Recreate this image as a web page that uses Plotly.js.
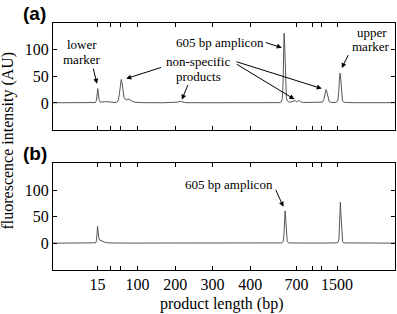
<!DOCTYPE html>
<html><head><meta charset="utf-8">
<script src="https://cdn.plot.ly/plotly-3.0.1.min.js"></script>
<style>html,body{margin:0;padding:0;background:#fff}</style>
</head><body><div id="chart" style="width:397px;height:314px"></div>
<script>
// ladder sizes (bp) and their migration position on the time axis
const ladderSizes = [15, 25, 50, 100, 200, 300, 400, 700, 850, 1000, 1500];
const ladderLabels = ['15', '', '', '100', '200', '300', '400', '700', '', '', '1500'];
const ladderTime = [44.6, 57.3, 68, 84.6, 122.3, 159.6, 197.3, 243.8, 259.8, 268.3, 284.3];

// panel (a): electropherogram trace
const timeA = [0,20,40,42.5,43.5,44.2,44.8,45.4,46.2,47.2,49,51,53,55,58,62,64.5,65.5,66.5,67.5,68.3,69.1,70,71,72,73.5,75,76.5,78,80,83,90,110,122,125,127.3,129.5,133,150,180,210,226,228.5,229.5,230.2,230.8,231.3,231.8,232.3,232.9,233.6,234.5,236,238,240,241.5,242.3,243.5,244.5,245.5,246.3,247.3,248.5,251,258,266,269.5,271,272.2,273.3,274.3,275.4,276.5,279,283,284.8,285.8,286.6,287.3,288,288.8,289.7,291,294,305,320,342.3];
const fluorA = [0.3,0.3,0.4,0.8,5,16,27,17,5,1.8,1.5,2,2.6,2.2,1,0.8,2,6,18,36,44,38,22,11,7.5,6,6.8,7,5,2.5,1.2,0.6,0.4,0.6,1.5,3,1.6,0.6,0.4,0.4,0.5,0.6,2,8,35,95,131,112,70,30,10,4,2,1.5,2.5,3.5,4.5,2.5,2,4,5,3,1.5,0.8,0.6,0.7,1.5,6,18,25,19,7,2.5,1,0.9,3,15,42,56,44,18,5,1.5,0.8,0.5,0.5,0.5];

// panel (b): electropherogram trace
const timeB = [0,25,40,42.8,43.6,44.1,44.6,45.2,46,47,48.5,50,52,55,60,80,120,180,226,229,230.3,231.1,231.8,232.3,232.9,233.6,234.4,235.5,240,270,283,285,286.2,287,287.6,288.2,289,289.9,291.2,300,342.3];
const fluorB = [0.3,0.3,0.4,1,6,17,32,21,9,6,4.5,3.2,2,1,0.6,0.5,0.4,0.4,0.4,0.8,3,14,42,61,46,17,4,1.2,0.6,0.5,0.5,1,8,40,77,55,16,3,0.8,0.5,0.4];

const yTicks = [0, 50, 100];

const L = 52.7, R = 395, T = 22.6, B = 270, W = 397, H = 314;
const px = x => (x - L) / (R - L);
const py = y => (B - y) / (B - T);

const serif = "'Liberation Serif', 'Times New Roman', serif";
const lineStyle = {color: '#555', width: 1};

const traces = [
  {x: timeA, y: fluorA, xaxis: 'x2', yaxis: 'y2', type: 'scatter', mode: 'lines', line: lineStyle, hoverinfo: 'skip'},
  {x: timeB, y: fluorB, xaxis: 'x', yaxis: 'y', type: 'scatter', mode: 'lines', line: lineStyle, hoverinfo: 'skip'}
];

const axCommon = {
  showline: true, linecolor: '#000', linewidth: 1, mirror: 'ticks',
  ticks: 'inside', ticklen: 4, tickcolor: '#000', tickwidth: 1,
  showgrid: false, zeroline: false, fixedrange: true,
  tickfont: {family: serif, size: 16, color: '#000'}
};

function txt(text, x, y, size, extra) {
  return Object.assign({text: text, xref: 'paper', yref: 'paper', x: px(x), y: py(y),
    xanchor: 'center', yanchor: 'middle', showarrow: false,
    font: {family: serif, size: size || 13, color: '#000'}}, extra || {});
}
function arrow(xr, yr, x, y, ax, ay) {
  return {text: '', xref: xr, yref: yr, x: x, y: y, ax: ax, ay: ay, showarrow: true,
    arrowhead: 2, arrowsize: 1, arrowwidth: 1, arrowcolor: '#000'};
}

const boldSans = {family: "'Liberation Sans', Arial, sans-serif", size: 19, color: '#000', weight: 'bold'};

const annotations = [
  txt('(a)', 34, 13.3, 19, {font: boldSans}),
  txt('(b)', 34.7, 153.3, 19, {font: boldSans}),
  txt('lower', 81.7, 44.5),
  txt('marker', 81.7, 59),
  txt('605 bp amplicon', 219.5, 41.7),
  txt('non-specific', 197.5, 61.5),
  txt('products', 198, 76),
  txt('upper', 371.5, 32),
  txt('marker', 370.5, 46.5),
  txt('605 bp amplicon', 228.8, 184),
  txt('fluorescence intensity (AU)', 8, 140, 16, {textangle: -90}),
  txt('product length (bp)', 222, 304, 16),
  arrow('x2', 'y2', 44, 36, -4, -16.7),
  arrow('x2', 'y2', 229, 103.7, -17.7, -5.6),
  arrow('x2', 'y2', 73.3, 45.7, 36.3, -11.6),
  arrow('x2', 'y2', 129, 6.4, 6.6, -16),
  arrow('x2', 'y2', 241.6, 7, -59.3, -36),
  arrow('x2', 'y2', 269, 27, -86.7, -27.3),
  arrow('x2', 'y2', 289, 65.4, 7.3, -14.4),
  arrow('x', 'y', 230.6, 68.5, -8.3, -18.4)
];

const layout = {
  width: W, height: H,
  margin: {l: L, r: W - R, t: T, b: H - B, pad: 0},
  paper_bgcolor: '#fff', plot_bgcolor: '#fff',
  showlegend: false,
  xaxis: Object.assign({}, axCommon, {domain: [0, 1], anchor: 'y', range: [0, 342.3],
    tickmode: 'array', tickvals: ladderTime, ticktext: ladderLabels}),
  xaxis2: Object.assign({}, axCommon, {domain: [0, 1], anchor: 'y2', range: [0, 342.3],
    tickmode: 'array', tickvals: ladderTime, ticktext: ladderLabels, showticklabels: false}),
  yaxis: Object.assign({}, axCommon, {domain: [0, (B - 163.2) / (B - T)], anchor: 'x', range: [-50, 150],
    tickmode: 'array', tickvals: yTicks}),
  yaxis2: Object.assign({}, axCommon, {domain: [(B - 129.4) / (B - T), 1], anchor: 'x2', range: [-50, 150],
    tickmode: 'array', tickvals: yTicks}),
  annotations: annotations
};

Plotly.newPlot('chart', traces, layout, {staticPlot: true, displayModeBar: false});
</script></body></html>
